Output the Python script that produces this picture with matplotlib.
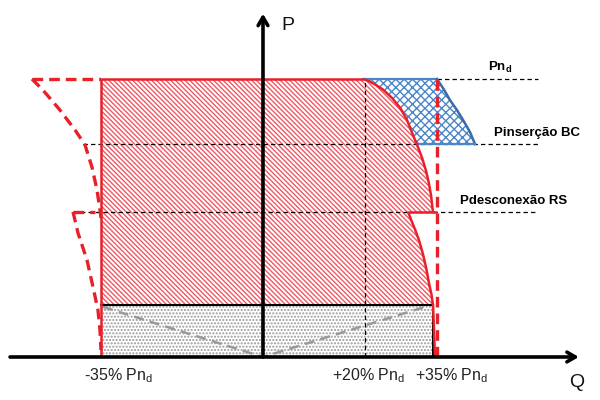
import matplotlib
matplotlib.use("Agg")
import matplotlib.pyplot as plt
from matplotlib.patches import Polygon

plt.rcParams['font.family'] = ['Liberation Sans', 'DejaVu Sans']
plt.rcParams['mathtext.fontset'] = 'custom'
plt.rcParams['mathtext.rm'] = 'Liberation Sans'
plt.rcParams['mathtext.bf'] = 'Liberation Sans:bold'
plt.rcParams['hatch.linewidth'] = 1.0

# ---------------- data (Q in % of Pn, P in p.u. of Pn) ----------------
Q_MIN = -33.75        # -35% Pn limit (left vertical)
Q_20 = 21.25          # +20% Pn
Q_35 = 36.25          # +35% Pn (dashed limit)
Q_RECT = 35.42        # right edge of low-power rectangle
P_ND = 1.0            # Pn_d
P_BC = 0.766          # Pinserção BC
P_RS = 0.522          # Pdesconexão RS
P_LOW = 0.187         # low power band

# upper red capability curve (from +20% at Pn_d down to P_RS)
upper_q = [20.8, 22.0, 23.4, 25.0, 26.88, 28.54, 30.0, 31.25, 32.29, 33.13,
           33.96, 34.5, 35.0, 35.25, 35.42]
upper_p = [1.0, 0.993, 0.980, 0.962, 0.932, 0.897, 0.853, 0.798, 0.755, 0.717,
           0.670, 0.630, 0.583, 0.545, 0.522]
# lower red capability curve (from P_RS down to Q axis)
lower_q = [30.21, 30.9, 31.7, 32.5, 33.33, 34.0, 34.58, 35.1, 35.42, 35.63, 35.83]
lower_p = [0.522, 0.492, 0.458, 0.420, 0.370, 0.320, 0.266, 0.225, 0.187, 0.097, 0.0]
# blue (BC) curve
blue_q = [36.25, 37.7, 38.96, 40.42, 41.67, 43.13, 44.17]
blue_p = [1.0, 0.962, 0.924, 0.888, 0.853, 0.809, 0.766]
# left dashed curves
ldash_up_q = [-48.13, -45.83, -42.29, -39.17, -37.08, -35.63, -34.58, -33.96, -33.75]
ldash_up_p = [1.0, 0.960, 0.888, 0.817, 0.763, 0.683, 0.601, 0.529, 0.50]
ldash_lo_q = [-39.58, -38.54, -36.67, -35.42, -34.38, -33.96, -33.75]
ldash_lo_p = [0.522, 0.446, 0.349, 0.252, 0.169, 0.097, 0.025]
# grey dashed V
v_q = [-33.3, 0.0, 35.0]
v_p = [0.18, 0.0, 0.187]

tick_q = [-30.0, 21.9, 39.2]
tick_labels = [r'-35% Pn$_\mathregular{d}$', r'+20% Pn$_\mathregular{d}$',
               r'+35% Pn$_\mathregular{d}$']
level_labels = [r'Pn$_\mathbf{d}$', 'Pinserção BC', 'Pdesconexão RS']
level_label_q = [49.4, 57.1, 52.1]
level_label_p = [1.04, 0.806, 0.56]

RED = '#E8202A'
HATCH_RED = '#EE5A66'
BLUE = '#4A86C8'
BLUE_EDGE = '#3C6BA8'
GREY = '#999999'

# ---------------- figure ----------------
fig = plt.figure(figsize=(6, 4), dpi=100)
ax = fig.add_axes([0, 0, 1, 1])
ax.set_xlim(-54.79, 70.21)
ax.set_ylim(-0.1547, 1.2842)
ax.axis('off')

# red hatched region
n_low = lower_p.index(P_LOW) + 1
hq = [Q_MIN] + upper_q + lower_q[:n_low] + [Q_MIN]
hp = [P_ND] + upper_p + lower_p[:n_low] + [P_LOW]
ax.add_patch(Polygon(list(zip(hq, hp)), closed=True, facecolor='white',
                     edgecolor=HATCH_RED, hatch='\\' * 7, linewidth=0, zorder=1))

# blue crosshatched region
bc_red_q = [q for q, p in zip(upper_q, upper_p) if p >= P_BC]
bc_red_p = [p for p in upper_p if p >= P_BC]
bq = blue_q + [32.0] + bc_red_q[::-1]
bp = blue_p + [P_BC] + bc_red_p[::-1]
ax.add_patch(Polygon(list(zip(bq, bp)), closed=True, facecolor='white',
                     edgecolor=BLUE, hatch='xxxx', linewidth=0, zorder=1))

# grey dotted rectangle
ax.add_patch(Polygon([(Q_MIN, 0), (Q_RECT, 0), (Q_RECT, P_LOW), (Q_MIN, P_LOW)],
                     closed=True, facecolor='white', edgecolor='#999999',
                     hatch='.....', linewidth=0, zorder=1))
ax.plot([Q_MIN, Q_RECT, Q_RECT], [P_LOW, P_LOW, 0], color='black', lw=1.5, zorder=4)

# grey dashed V
ax.plot(v_q, v_p, color=GREY, lw=1.8, dashes=(4, 2.5), zorder=3)

# black thin dashed reference lines
bd = dict(color='black', lw=0.9, dashes=(3.5, 2.5), zorder=3)
ax.plot([Q_35, 57.3], [P_ND, P_ND], **bd)
ax.plot([-37.5, 57.3], [P_BC, P_BC], **bd)
ax.plot([-39.58, 57.3], [P_RS, P_RS], **bd)
ax.plot([Q_20, Q_20], [0, P_ND], **bd)

# blue outline
ax.plot([upper_q[0], Q_35], [P_ND, P_ND], color=BLUE, lw=1.6, zorder=5)
ax.plot(blue_q, blue_p, color=BLUE_EDGE, lw=1.8, zorder=5)
ax.plot([32.0, blue_q[-1]], [P_BC, P_BC], color=BLUE, lw=1.6, zorder=5)

# red solid outline
rs = dict(color=RED, lw=1.8, zorder=5, solid_capstyle='butt')
ax.plot([Q_MIN, Q_MIN], [0, P_ND], **rs)
ax.plot([Q_MIN, upper_q[0]], [P_ND, P_ND], **rs)
ax.plot(upper_q, upper_p, **rs)
ax.plot([lower_q[0], Q_35], [P_RS, P_RS], **rs)
ax.plot(lower_q, lower_p, **rs)

# red dashed lines
rd = dict(color=RED, lw=2.4, dashes=(3.2, 1.8), zorder=6)
ax.plot([ldash_up_q[0], Q_MIN], [P_ND, P_ND], **rd)
ax.plot(ldash_up_q, ldash_up_p, **rd)
ax.plot([ldash_lo_q[0], -35.0], [P_RS, P_RS], **rd)
ax.plot(ldash_lo_q, ldash_lo_p, **rd)
ax.plot([Q_35, Q_35], [0, P_ND], **rd)

# axes with arrows
arr = dict(arrowstyle='->,head_length=0.6,head_width=0.35', lw=2.6, color='black',
           shrinkA=0, shrinkB=0)
ax.annotate('', xy=(65.8, 0), xytext=(-52.7, 0), arrowprops=arr, zorder=7)
ax.annotate('', xy=(0, 1.235), xytext=(0, 0), arrowprops=arr, zorder=7)
ax.text(5.2, 1.193, 'P', fontsize=14, ha='center', va='center', color='#111111')
ax.text(65.4, -0.093, 'Q', fontsize=14, ha='center', va='center', color='#111111')

for q, lab in zip(tick_q, tick_labels):
    ax.text(q, -0.068, lab, fontsize=11.5, ha='center', va='center', color='#222222')

for q, p, lab in zip(level_label_q, level_label_p, level_labels):
    ax.text(q, p, lab, fontsize=9.5, fontweight='bold', ha='center', va='center',
            color='black')

fig.savefig('out.png', dpi=100)
